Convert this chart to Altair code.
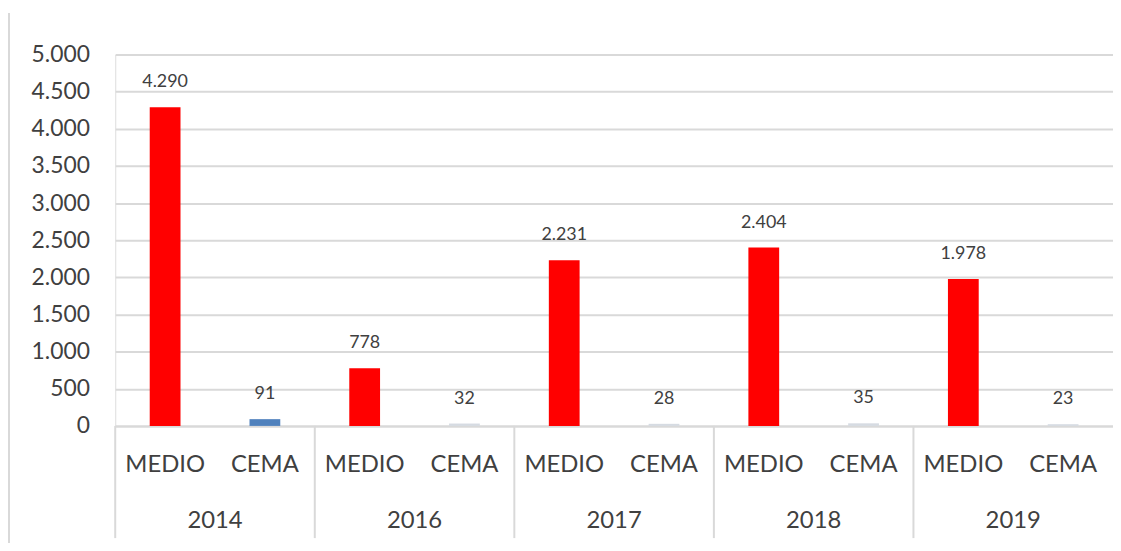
import altair as alt
import pandas as pd

years = ["2014", "2014", "2016", "2016", "2017", "2017", "2018", "2018", "2019", "2019"]
categories = ["MEDIO", "CEMA"] * 5
values = [4290, 91, 778, 32, 2231, 28, 2404, 35, 1978, 23]
bar_colors = ["#ff0000", "#4f81bd", "#ff0000", "#d6dbe2", "#ff0000", "#d6dbe2",
              "#ff0000", "#d6dbe2", "#ff0000", "#d6dbe2"]
y_ticks = list(range(0, 5001, 500))

keys = [f"{y} {c}" for y, c in zip(years, categories)]
df = pd.DataFrame({"year": years, "cat": categories, "value": values,
                   "color": bar_colors, "key": keys})
groups = df[df["cat"] == "MEDIO"]

W, H = 1005, 374
FONT = "Lato"
GRID = "#d9d9d9"
TXT = "#404040"

xscale = alt.Scale(domain=keys, paddingInner=0, paddingOuter=0)
yscale = alt.Scale(domain=[0, 5000], nice=False)

x_axis = alt.Axis(title=None, labelExpr="split(datum.value, ' ')[1]",
                  labelFontSize=24, labelFont=FONT, labelColor=TXT,
                  labelPadding=27, ticks=False, domainColor=GRID,
                  domainWidth=2, labelAngle=0, labelOverlap=False)
y_axis = alt.Axis(title=None, values=y_ticks, tickCount=11,
                  labelExpr="replace(format(datum.value, ','), ',', '.')",
                  labelFontSize=23, labelFont=FONT, labelColor=TXT,
                  labelPadding=26, ticks=False, domain=False,
                  labelOverlap=False, labelBaseline="middle",
                  gridColor=GRID, gridWidth=2)

X = alt.X("key:N", scale=xscale, sort=keys, axis=x_axis)
Y = alt.Y("value:Q", scale=yscale, axis=y_axis)

bars = alt.Chart(df).mark_bar(width=31).encode(
    x=X, y=Y, color=alt.Color("color:N", scale=None),
)

labels = alt.Chart(df).mark_text(dy=-25, fontSize=18, font=FONT, color=TXT,
                                  baseline="middle").transform_calculate(
    label="replace(format(datum.value, ','), ',', '.')"
).encode(x=X, y=Y, text="label:N")

year_text = alt.Chart(groups).mark_text(fontSize=24, font=FONT, color=TXT,
                                        baseline="middle").encode(
    x=alt.X("key:N", scale=xscale, sort=keys, bandPosition=1, axis=x_axis),
    y=alt.value(470),
    text="year:N",
)

dividers = alt.Chart(groups).mark_rule(color=GRID, strokeWidth=2).encode(
    x=alt.X("key:N", scale=xscale, sort=keys, bandPosition=0, axis=x_axis),
    y=alt.value(H),
    y2=alt.value(H + 113),
)

frame = alt.Chart(groups.head(1)).mark_rule(color=GRID, strokeWidth=2).encode(
    x=alt.value(-107),
    y=alt.value(-42),
    y2=alt.value(H + 120),
)

chart = alt.layer(bars, labels, year_text, dividers, frame).properties(
    width=W, height=H,
    padding={"left": 108, "top": 45, "right": 0, "bottom": 116},
    autosize=alt.AutoSizeParams(type="none"),
).configure_view(stroke=None).configure(background="white")

chart.save("out.html", embed_options={"renderer": "svg", "actions": False})
